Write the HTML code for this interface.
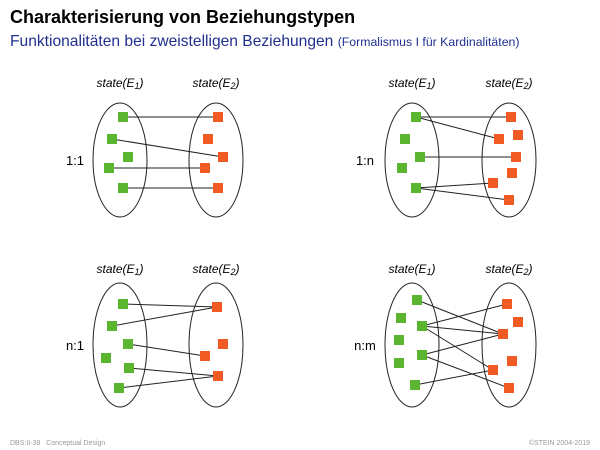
<!DOCTYPE html>
<html><head><meta charset="utf-8"><style>
html,body{margin:0;padding:0;background:#fff;width:600px;height:450px;overflow:hidden}
svg{display:block;font-family:"Liberation Sans",sans-serif}
</style></head><body>
<svg id="s" width="600" height="450" viewBox="0 0 600 450">
<text x="10" y="23" font-size="18" font-weight="bold" fill="#000">Charakterisierung von Beziehungstypen</text>
<text x="10" y="46" font-size="15.6" fill="#1f2f8f">Funktionalitäten bei zweistelligen Beziehungen <tspan font-size="12.3">(Formalismus I für Kardinalitäten)</tspan></text>
<text x="10" y="445" font-size="7" fill="#999">DBS:II-38 &#160; Conceptual Design</text>
<text x="590" y="445" font-size="7" fill="#999" text-anchor="end">©STEIN 2004-2019</text>
<g id="panels"></g>
</svg>
<script>
const panelLabels = ["1:1","1:n","n:1","n:m"];
const panelOrigins = [[120,160,216,57,75,87],[412,160,509,57,365,87],[120,345,216,62,75,273],[412,345,509,62,365,273]];
const greens = [
 [[123,117],[112,139],[128,157],[109,168],[123,188]],
 [[416,117],[405,139],[420,157],[402,168],[416,188]],
 [[123,304],[112,326],[128,344],[106,358],[129,368],[119,388]],
 [[417,300],[401,318],[422,326],[399,340],[422,355],[399,363],[415,385]]
];
const reds = [
 [[218,117],[208,139],[223,157],[205,168],[218,188]],
 [[511,117],[499,139],[518,135],[516,157],[512,173],[493,183],[509,200]],
 [[217,307],[223,344],[205,356],[218,376]],
 [[507,304],[518,322],[503,334],[512,361],[493,370],[509,388]]
];
const links = [
 [[0,0],[1,2],[3,3],[4,4]],
 [[0,0],[0,1],[2,3],[4,5],[4,6]],
 [[0,0],[1,0],[2,2],[4,3],[5,3]],
 [[0,2],[2,0],[2,2],[2,4],[4,2],[4,5],[6,4]]
];
const NS="http://www.w3.org/2000/svg";
const g=document.getElementById('panels');
function mk(t,a){const e=document.createElementNS(NS,t);for(const k in a)e.setAttribute(k,a[k]);g.appendChild(e);return e;}
panelLabels.forEach((lab,p)=>{
 const [lx,cy,rx,ry,tx,ly]=panelOrigins[p];
 let e=mk('ellipse',{cx:lx,cy:cy,rx:27,ry:ry,fill:'none',stroke:'#222','stroke-width':1});
 
 
 e=mk('ellipse',{cx:rx,cy:cy,rx:27,ry:ry,fill:'none',stroke:'#222','stroke-width':1});
 
 
 [[lx,'1'],[rx,'2']].forEach(([x,i])=>{
  const t=mk('text',{x:x,y:ly,'font-size':12,'font-style':'italic','text-anchor':'middle'});
  t.innerHTML='state(E<tspan font-size="9" dy="2">'+i+'</tspan><tspan dy="-2">)</tspan>';
  
  
 });
 const tl=mk('text',{x:tx,y:cy+5,'font-size':13,'text-anchor':'middle'});
 tl.textContent=lab;
 
 
 links[p].forEach(([a,b])=>{
  const l=mk('line',{x1:greens[p][a][0],y1:greens[p][a][1],x2:reds[p][b][0],y2:reds[p][b][1],stroke:'#222','stroke-width':1});
  
  
 });
 greens[p].forEach(([x,y])=>{
  const r=mk('rect',{x:x-5,y:y-5,width:10,height:10,fill:'#5cb531'});
  
  
 });
 reds[p].forEach(([x,y])=>{
  const r=mk('rect',{x:x-5,y:y-5,width:10,height:10,fill:'#f05a23'});
  
  
 });
});
</script>
</body></html>
